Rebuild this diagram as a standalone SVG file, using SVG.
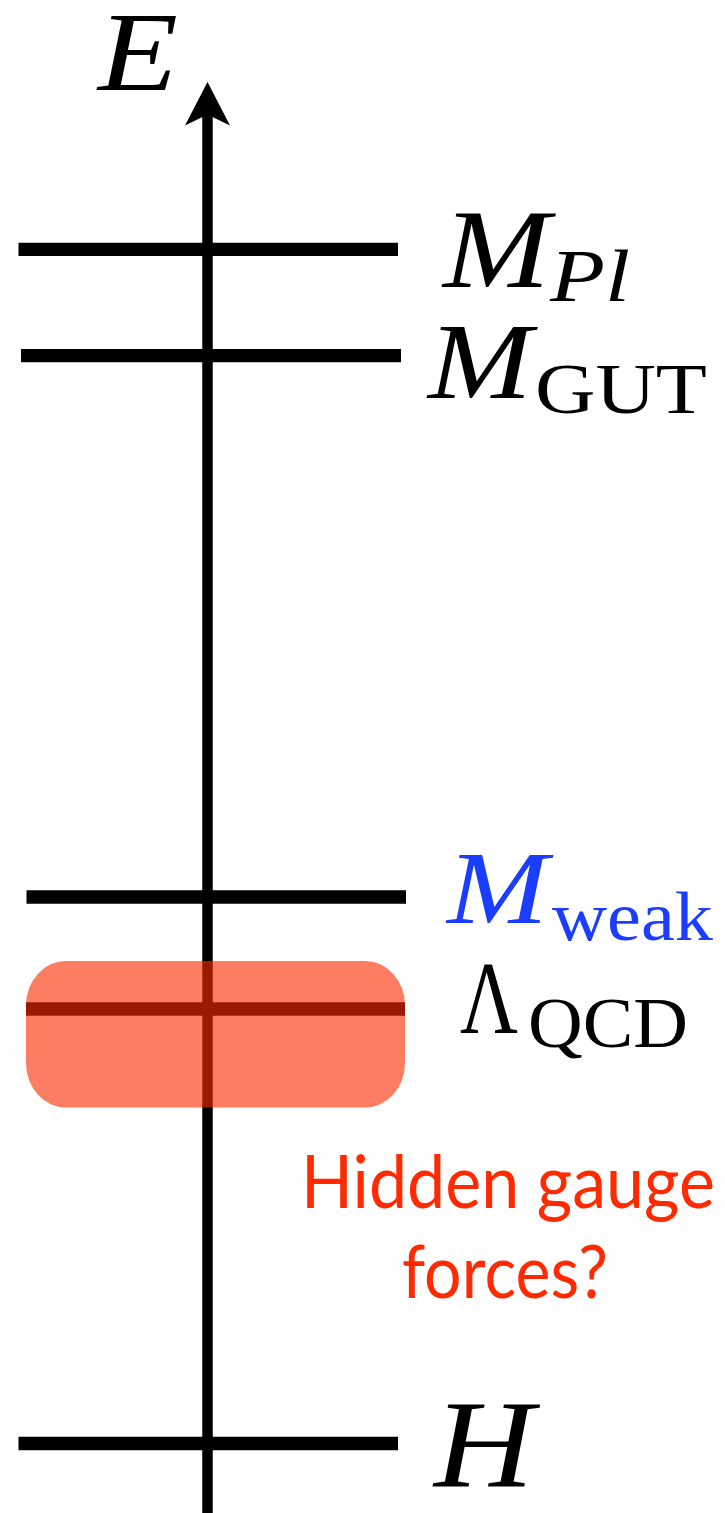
<svg xmlns="http://www.w3.org/2000/svg" width="725" height="1513" viewBox="0 0 725 1513">
<style>
.lvl{stroke:#000;stroke-width:13.3;fill:none}
.mi{font-family:"Liberation Serif","Times New Roman",serif;font-style:italic;fill:#000}
.rm{font-family:"Liberation Serif","Times New Roman",serif;fill:#000}
.hid{font-family:Lato,"Open Sans",sans-serif;fill:#FF2A00}
</style>
<rect width="725" height="1513" fill="#fff"/>
<g id="connectors">
<line x1="207.5" y1="1513" x2="207.5" y2="116" stroke="#000" stroke-width="10.5"/>
<polygon points="207.5,82 230,125.5 212.5,117 202.5,117 185,125.5" fill="#000"/>
</g>
<g id="axis-label">
<text class="mi" x="98" y="90" font-size="113" textLength="80" lengthAdjust="spacingAndGlyphs">E</text>
</g>
<g id="M_Pl">
<line class="lvl" x1="18.5" y1="249.3" x2="398" y2="249.3"/>
<text class="mi" x="443" y="287" font-size="113" textLength="107" lengthAdjust="spacingAndGlyphs">M</text>
<text class="mi" x="550" y="301" font-size="74" textLength="80" lengthAdjust="spacingAndGlyphs">Pl</text>
</g>
<g id="M_GUT">
<line class="lvl" x1="21" y1="355.7" x2="401" y2="355.7"/>
<text class="mi" x="428" y="398" font-size="108" textLength="104" lengthAdjust="spacingAndGlyphs">M</text>
<text class="rm" x="535" y="413" font-size="72" textLength="172" lengthAdjust="spacingAndGlyphs">GUT</text>
</g>
<g id="M_weak">
<line class="lvl" x1="26.5" y1="897" x2="406" y2="897"/>
<text class="mi" x="447" y="923" font-size="103" textLength="101" lengthAdjust="spacingAndGlyphs" style="fill:#1A3DFF">M</text>
<text class="rm" x="552" y="940" font-size="70" textLength="161" lengthAdjust="spacingAndGlyphs" style="fill:#1A3DFF">weak</text>
</g>
<g id="Lambda_QCD">
<line class="lvl" x1="26" y1="1009" x2="405" y2="1009"/>
<rect x="26" y="961" width="379" height="146.5" rx="40" ry="44" fill="rgb(252,43,0)" fill-opacity="0.61"/>
<text class="rm" x="460" y="1033" font-size="103" textLength="58" lengthAdjust="spacingAndGlyphs">Λ</text>
<text class="rm" x="528" y="1047" font-size="71" textLength="160" lengthAdjust="spacingAndGlyphs">QCD</text>
</g>
<g id="hidden-note">
<text class="hid" x="301" y="1208" font-size="74" textLength="414" lengthAdjust="spacingAndGlyphs">Hidden gauge</text>
<text class="hid" x="402" y="1298" font-size="74" textLength="206" lengthAdjust="spacingAndGlyphs">forces?</text>
</g>
<g id="H">
<line class="lvl" x1="18.5" y1="1443.5" x2="398" y2="1443.5"/>
<text class="mi" x="434" y="1486" font-size="125" textLength="100" lengthAdjust="spacingAndGlyphs">H</text>
</g>
</svg>
